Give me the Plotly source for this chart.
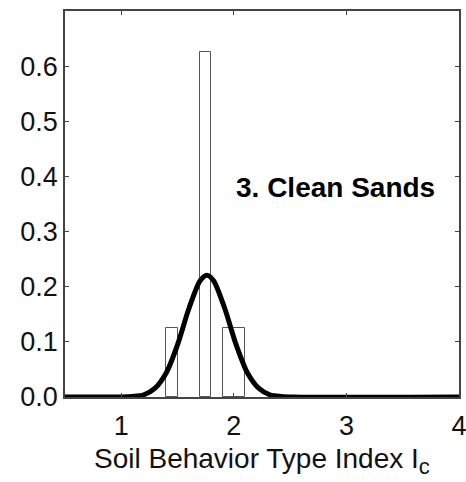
import plotly.graph_objects as go

# Histogram bins (left edge, right edge) and relative frequencies
bin_left = [1.4, 1.7, 1.9]
bin_right = [1.5, 1.8, 2.1]
bin_freq = [0.125, 0.625, 0.125]

# Fitted distribution curve
curve_x = [0.5, 1.0, 1.1, 1.2, 1.3, 1.4, 1.5, 1.6, 1.7, 1.76, 1.82, 1.92, 2.02, 2.12, 2.22, 2.32, 2.42, 2.52, 4.0]
curve_y = [0.0, 0.0, 0.001, 0.004, 0.016, 0.044, 0.095, 0.160, 0.211, 0.221, 0.211, 0.160, 0.095, 0.044, 0.016, 0.004, 0.001, 0.0, 0.0]

x_ticks = [1, 2, 3, 4]
y_ticks = [0.0, 0.1, 0.2, 0.3, 0.4, 0.5, 0.6]

label_text = "3. Clean Sands"
x_title = "Soil Behavior Type Index I<sub><span style='font-size:22px'>c</span></sub>"

FONT = "Liberation Sans, Arial, sans-serif"

centers = [(a + b) / 2 for a, b in zip(bin_left, bin_right)]
widths = [b - a for a, b in zip(bin_left, bin_right)]

fig = go.Figure()
fig.add_trace(go.Bar(
    x=centers, y=bin_freq, width=widths,
    marker=dict(color="white", line=dict(color="#555555", width=1)),
    showlegend=False, hoverinfo="skip",
))
fig.add_trace(go.Scatter(
    x=curve_x, y=curve_y, mode="lines",
    line=dict(color="black", width=5, shape="spline", smoothing=0.8),
    showlegend=False, hoverinfo="skip",
))

axis_common = dict(
    showline=True, linecolor="#444444", linewidth=1.5, mirror="ticks",
    ticks="inside", ticklen=4, tickwidth=1, tickcolor="#444444",
    showgrid=False, zeroline=False, automargin=False,
    ticklabeloverflow="allow",
    tickfont=dict(family=FONT, size=27, color="#111111"),
)

fig.update_xaxes(range=[0.5, 4.0], tickvals=x_ticks, ticktext=[str(v) for v in x_ticks],
                 ticklabelstandoff=4, **axis_common)
fig.update_yaxes(range=[0.0, 0.7], tickvals=y_ticks, ticktext=[f"{v:.1f}" for v in y_ticks],
                 ticklabelstandoff=0, **axis_common)

# x-axis title placed as an annotation for precise vertical placement
fig.add_annotation(
    x=0.5, xref="paper", y=-0.115, yref="paper",
    text=x_title, showarrow=False,
    xanchor="center", yanchor="top",
    font=dict(family=FONT, size=28, color="#111111"),
)

fig.add_annotation(
    x=0.43, xref="paper", y=0.38, yref="y",
    text=f"<b>{label_text}</b>", showarrow=False,
    xanchor="left", yanchor="middle",
    font=dict(family=FONT, size=28, color="black"),
)

fig.update_layout(
    width=466, height=482,
    margin=dict(l=65, r=7, t=11, b=85),
    plot_bgcolor="white", paper_bgcolor="white",
    bargap=0,
)

fig.write_html(
    "out.html",
    config={"displayModeBar": False},
    post_script="document.body.style.margin='0';document.body.style.padding='0';",
)
